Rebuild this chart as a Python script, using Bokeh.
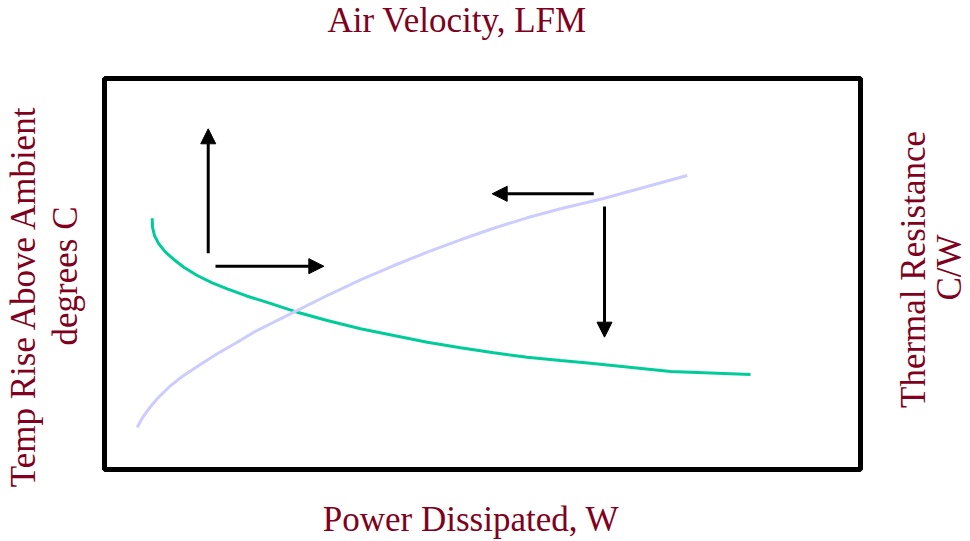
from bokeh.plotting import figure
from bokeh.models import Label, Arrow, NormalHead, Range1d, BoxAnnotation
from bokeh.embed import file_html
from bokeh.resources import INLINE
import math

# ---- data (arbitrary units, 0-100 on both axes of the boxed plot area) ----
# Temperature rise curve (green)
temp_x = [6.31, 6.35, 6.61, 7.18, 8.07, 9.17, 10.49, 12.26, 14.25, 16.23, 18.88, 21.73,
          25.04, 29.46, 33.86, 38.27, 42.69, 47.09, 51.49, 55.91, 60.32, 64.29, 74.87, 85.45]
temp_y = [64.27, 61.97, 59.85, 57.72, 55.58, 53.71, 51.74, 49.62, 47.75, 46.21, 44.32, 42.63,
          40.49, 38.11, 35.98, 34.27, 32.56, 31.13, 29.85, 28.72, 27.88, 27.19, 25.06, 24.30]

# Thermal resistance curve (lavender)
res_x = [4.33, 4.99, 5.86, 6.97, 8.51, 10.28, 12.47, 14.91, 17.33, 19.75,
         25.04, 29.46, 33.86, 38.27, 42.69, 47.09, 51.49, 55.91, 60.32, 66.01, 77.08]
res_y = [10.82, 13.12, 15.52, 18.08, 21.05, 23.79, 26.60, 29.59, 32.30, 35.12,
         40.23, 44.50, 48.52, 52.17, 55.58, 58.75, 61.71, 64.37, 66.68, 69.31, 75.19]

# Direction arrows: start and end points
arrow_x_start = [13.72, 14.68, 64.72, 66.14]
arrow_y_start = [55.32, 52.00, 70.51, 67.26]
arrow_x_end = [13.72, 29.01, 51.28, 66.14]
arrow_y_end = [87.14, 52.00, 70.51, 33.84]

# Plot-area bounds (the boxed region)
x_min, x_max = 0, 100
y_min, y_max = 0, 100

# Texts
title_top = "Air Velocity,  LFM"
title_bottom = "Power Dissipated, W"
left_lines = ["Temp Rise Above Ambient", "degrees C"]
right_lines = ["Thermal Resistance", "C/W"]

TEXT_COLOR = "#800020"
FONT = "Liberation Serif"

# ---- layout: canvas pixels of the boxed area ----
W, H = 970, 541
box_l, box_r, box_t, box_b = 104, 860, 78, 469
sx = (box_r - box_l) / (x_max - x_min)
sy = (box_b - box_t) / (y_max - y_min)
xr = Range1d(x_min - box_l / sx, x_max + (W - box_r) / sx)
yr = Range1d(y_min - (H - box_b) / sy, y_max + box_t / sy)

p = figure(width=W, height=H, output_backend="svg", toolbar_location=None,
           x_axis_location=None, y_axis_location=None,
           x_range=xr, y_range=yr, min_border=0)
p.grid.visible = False
p.outline_line_color = None
p.background_fill_color = "white"
p.border_fill_color = "white"

p.add_layout(BoxAnnotation(left=x_min, right=x_max, bottom=y_min, top=y_max,
                           fill_alpha=0, fill_color=None,
                           line_color="black", line_alpha=1.0, line_width=5))

p.line(temp_x, temp_y, line_color="#00CC99", line_width=3)
p.line(res_x, res_y, line_color="#CCCCFF", line_width=3)

for xs, ys, xe, ye in zip(arrow_x_start, arrow_y_start, arrow_x_end, arrow_y_end):
    p.add_layout(Arrow(x_start=xs, y_start=ys, x_end=xe, y_end=ye,
                       line_color="black", line_width=3,
                       end=NormalHead(size=15, fill_color="black", line_color="black", line_width=1)))

SHIFT = 13  # correction of the rendered baseline, in px

def lab(text, x, y, angle=0.0):
    # x, y: wanted baseline-centre in canvas pixels from top-left
    if angle:
        x = x - SHIFT
    else:
        y = y - SHIFT
    p.add_layout(Label(text=text, x=x, y=H - y, x_units="screen", y_units="screen",
                       angle=angle, text_align="center", text_baseline="alphabetic",
                       text_font=FONT, text_font_size="35px", text_color=TEXT_COLOR))

lab(title_top, 461, 33)
lab(title_bottom, 470.5, 532)
lab(left_lines[0], 36, 295, math.pi / 2)
lab(left_lines[1], 78, 275.5, math.pi / 2)
lab(right_lines[0], 926, 269, math.pi / 2)
lab(right_lines[1], 962, 267, math.pi / 2)

open("out.html", "w").write(file_html(p, INLINE))
